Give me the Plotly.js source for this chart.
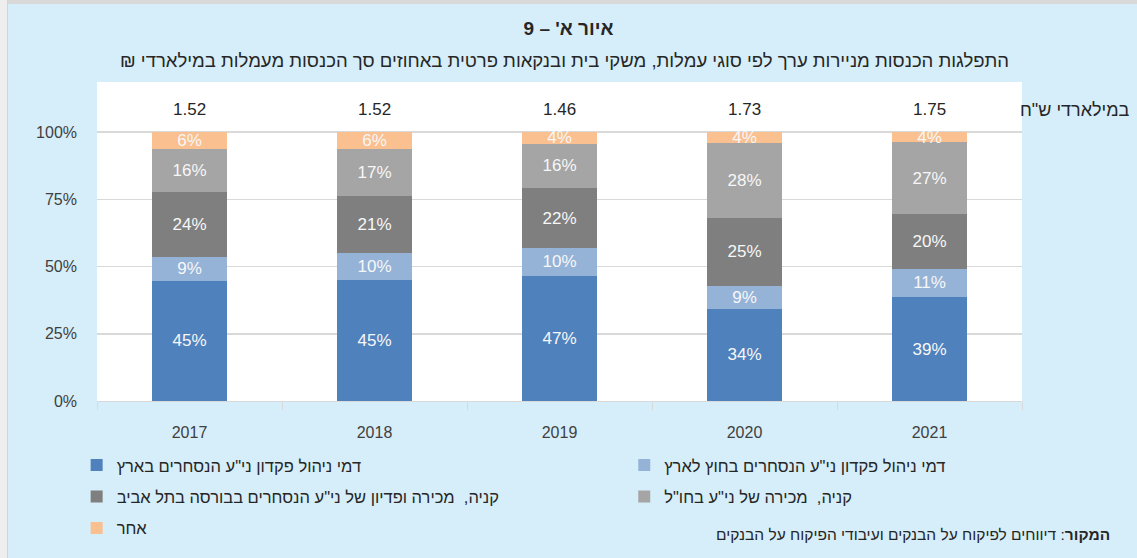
<!DOCTYPE html>
<html>
<head>
<meta charset="utf-8">
<script src="https://cdn.plot.ly/plotly-3.0.1.min.js"></script>
<style>
  html, body { margin: 0; padding: 0; background: #d6eef9; }
  #wrap { position: relative; width: 1137px; height: 558px; }
  #chart { width: 1137px; height: 558px; }
  #topline { position: absolute; left: 0; top: 0; width: 1137px; height: 4px; background: #d9d9d9; }
  #leftline { position: absolute; left: 0; top: 0; width: 7px; height: 558px; background: #eeeeee; border-right: 1px solid #d4d4d4; }
</style>
</head>
<body>
<div id="wrap">
  <div id="chart"></div>
  <div id="topline"></div>
  <div id="leftline"></div>
</div>
<script>
// Categories (years)
const years = ['2017', '2018', '2019', '2020', '2021'];
// Totals in billions of NIS (shown above bars)
const totals = ['1.52', '1.52', '1.46', '1.73', '1.75'];

// Series names (legend)
const seriesNames = [
  'דמי ניהול פקדון ני"ע הנסחרים בארץ',
  'דמי ניהול פקדון ני"ע הנסחרים בחוץ לארץ',
  'קניה,  מכירה ופדיון של ני"ע הנסחרים בבורסה בתל אביב',
  'קניה,  מכירה של ני"ע בחו"ל',
  'אחר'
];

// Series values (percent of total securities fee income)
const domesticCustody = [44.8, 45.1, 46.6, 34.3, 38.6];
const foreignCustody  = [8.8, 9.9, 10.2, 8.5, 10.6];
const tase            = [24.2, 21.2, 22.4, 25.4, 20.3];
const foreignTrading  = [15.8, 17.4, 16.4, 27.6, 26.7];
const other           = [6.4, 6.4, 4.4, 4.2, 3.8];

const seriesValues = [domesticCustody, foreignCustody, tase, foreignTrading, other];
const seriesColors = ['#4f81bd', '#95b3d7', '#7f7f7f', '#a5a5a5', '#fac090'];
// legend column for each series (left column / right column)
const seriesLegend = ['legend', 'legend2', 'legend', 'legend2', 'legend'];

// Y axis ticks
const yTicks = [0, 25, 50, 75, 100];
const yTickText = ['0%', '25%', '50%', '75%', '100%'];

const FONT = 'Liberation Sans, DejaVu Sans, sans-serif';

const traces = seriesValues.map((vals, i) => ({
  type: 'bar',
  name: seriesNames[i],
  legend: seriesLegend[i],
  legendgroup: 'g' + i,
  x: years,
  y: vals,
  marker: { color: seriesColors[i], line: { width: 0 } },
  text: vals.map(v => Math.round(v) + '%'),
  textposition: 'inside',
  insidetextanchor: 'middle',
  constraintext: 'none',
  textfont: { family: FONT, size: 17, color: '#f7f7f7' },
  hoverinfo: 'x+y+name'
}));

// totals above each bar (x given as category index)
const annotations = years.map((yr, i) => ({
  xref: 'x', yref: 'y', x: years.indexOf(yr), y: 108.3,
  text: totals[i], showarrow: false,
  font: { family: FONT, size: 17, color: '#262626' }
}));

annotations.push({
  xref: 'paper', yref: 'y', x: 1, y: 108.3, xanchor: 'left', xshift: -4,
  text: 'במילארדי ש"ח', showarrow: false,
  font: { family: FONT, size: 18, color: '#262626' }
});

annotations.push({
  xref: 'paper', yref: 'paper', x: 0.505, y: 1.0685, yanchor: 'middle',
  text: 'התפלגות הכנסות מניירות ערך לפי סוגי עמלות, משקי בית ובנקאות פרטית באחוזים סך הכנסות מעמלות במילארדי ₪\u200F',
  showarrow: false,
  font: { family: FONT, size: 18.5, color: '#262626' }
});

annotations.push({
  xref: 'paper', yref: 'paper', x: 1.097, y: -0.42, xanchor: 'right', yanchor: 'middle',
  text: '<b>המקור</b>: דיווחים לפיקוח על הבנקים ועיבודי הפיקוח על הבנקים',
  showarrow: false,
  font: { family: FONT, size: 15.5, color: '#262626' }
});

const legendCommon = {
  orientation: 'v',
  yanchor: 'top',
  font: { family: FONT, size: 16.5, color: '#262626' },
  bgcolor: 'rgba(0,0,0,0)',
  traceorder: 'grouped',
  tracegroupgap: 7
};

const layout = {
  width: 1137, height: 558,
  paper_bgcolor: '#d6eef9',
  plot_bgcolor: '#ffffff',
  margin: { l: 97, r: 115, t: 82, b: 155 },
  font: { family: FONT, color: '#404040' },
  title: {
    text: '<b>איור א\' – 9</b>',
    x: 0.5, xref: 'container', y: 1 - 28 / 558, yref: 'container', yanchor: 'middle',
    font: { family: FONT, size: 19, color: '#262626' }
  },
  barmode: 'stack',
  bargap: 0.596,
  showlegend: true,
  legend: Object.assign({}, legendCommon, { x: -0.022, xanchor: 'left', y: -0.147 }),
  legend2: Object.assign({}, legendCommon, { x: 0.570, xanchor: 'left', y: -0.147 }),
  uniformtext: { mode: 'show', minsize: 17 },
  xaxis: {
    type: 'category',
    range: [-0.5, years.length - 0.5], autorange: false,
    showline: true, linecolor: '#d9d9d9', linewidth: 1,
    ticks: 'outside', tickson: 'boundaries', ticklen: 8, tickcolor: '#d9d9d9',
    tickfont: { family: FONT, size: 16, color: '#404040' },
    ticklabelstandoff: 17,
    showgrid: false, fixedrange: true
  },
  yaxis: {
    range: [0, 118.6],
    tickvals: yTicks, ticktext: yTickText,
    showgrid: true, gridcolor: '#d9d9d9', gridwidth: 1.5,
    zeroline: false, showline: false,
    tickfont: { family: FONT, size: 16, color: '#404040' },
    ticklabelstandoff: 19,
    fixedrange: true
  },
  annotations: annotations
};

Plotly.newPlot('chart', traces, layout, { displayModeBar: false, staticPlot: true });
</script>
</body>
</html>
